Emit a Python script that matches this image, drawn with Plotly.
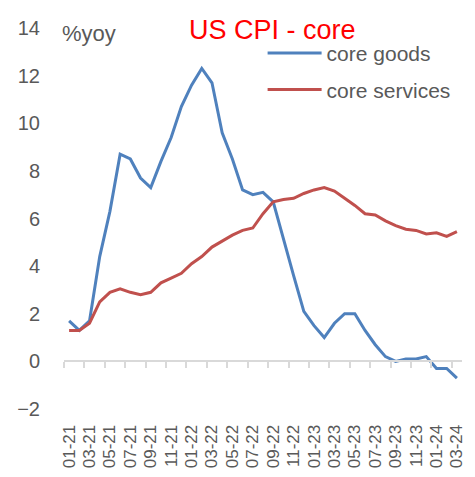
import plotly.graph_objects as go

tick_labels = ["01-21", "03-21", "05-21", "07-21", "09-21", "11-21",
               "01-22", "03-22", "05-22", "07-22", "09-22", "11-22",
               "01-23", "03-23", "05-23", "07-23", "09-23", "11-23",
               "01-24", "03-24"]

core_goods = [1.7, 1.3, 1.7, 4.4, 6.3, 8.7, 8.5, 7.7, 7.3, 8.4, 9.4, 10.7, 11.6,
              12.3, 11.7, 9.6, 8.5, 7.2, 7.0, 7.1, 6.7, 5.1, 3.6, 2.1, 1.5, 1.0,
              1.6, 2.0, 2.0, 1.3, 0.7, 0.2, 0.0, 0.1, 0.1, 0.2, -0.3, -0.3, -0.7]

core_services = [1.3, 1.3, 1.6, 2.5, 2.9, 3.05, 2.9, 2.8, 2.9, 3.3, 3.5, 3.7, 4.1,
                 4.4, 4.8, 5.05, 5.3, 5.5, 5.6, 6.2, 6.7, 6.8, 6.85, 7.05, 7.2, 7.3,
                 7.15, 6.85, 6.55, 6.2, 6.15, 5.9, 5.7, 5.55, 5.5, 5.35, 5.4, 5.25, 5.45]

n = len(core_goods)
xs = list(range(n))
GRAY = "#595959"
AXIS = "#D9D9D9"
FONT = "Liberation Sans, Arial, sans-serif"

fig = go.Figure()
fig.add_trace(go.Scatter(x=xs, y=core_goods, mode="lines", name="core goods",
                         line=dict(color="#4F81BD", width=3), legendgroup="a"))
fig.add_trace(go.Scatter(x=xs, y=core_services, mode="lines", name="core services",
                         line=dict(color="#C0504D", width=3), legendgroup="b"))
# helper trace so the zero-line category axis is drawn
fig.add_trace(go.Scatter(x=[], y=[], xaxis="x2", showlegend=False, hoverinfo="skip"))

rng = [-0.5, n - 0.5]
# the page body adds an 8px offset, so the figure is 8px smaller than the window
fig.update_layout(
    width=467, height=469,
    margin=dict(l=53, r=9, t=15, b=63),
    paper_bgcolor="white", plot_bgcolor="white",
    font=dict(family=FONT, color=GRAY),
    showlegend=True,
    legend=dict(x=0.499, y=0.987, xanchor="left", yanchor="top",
                font=dict(size=21, color=GRAY), bgcolor="rgba(0,0,0,0)",
                tracegroupgap=6, itemwidth=54),
    xaxis=dict(range=rng, tickmode="array", tickvals=xs[::2], ticktext=tick_labels,
               tickangle=-90, tickfont=dict(size=17, color=GRAY),
               ticks="outside", ticklen=8, tickcolor="rgba(0,0,0,0)",
               showgrid=False, zeroline=False, showline=False),
    xaxis2=dict(range=rng, overlaying="x", anchor="free", position=0.125,
                tickmode="array", tickvals=[i - 0.5 for i in xs[::2]],
                ticks="outside", ticklen=6, tickcolor=AXIS, tickwidth=1.5,
                showticklabels=False, showline=True, linecolor=AXIS, linewidth=1.5,
                showgrid=False, zeroline=False),
    yaxis=dict(range=[-2, 14], tickvals=list(range(-2, 15, 2)),
               tickfont=dict(size=20, color=GRAY),
               ticks="outside", ticklen=19, tickcolor="rgba(0,0,0,0)",
               showgrid=False, zeroline=False, showline=False),
    annotations=[
        dict(text="US CPI - core", xref="paper", yref="paper", x=0.525, y=0.995,
             xanchor="center", yanchor="middle", showarrow=False,
             font=dict(size=27, color="#FF0000", family=FONT)),
        dict(text="%yoy", xref="paper", yref="paper", x=0.135, y=0.985,
             xanchor="right", yanchor="middle", showarrow=False,
             font=dict(size=22, color=GRAY, family=FONT)),
    ],
)

fig.write_html("out.html")
